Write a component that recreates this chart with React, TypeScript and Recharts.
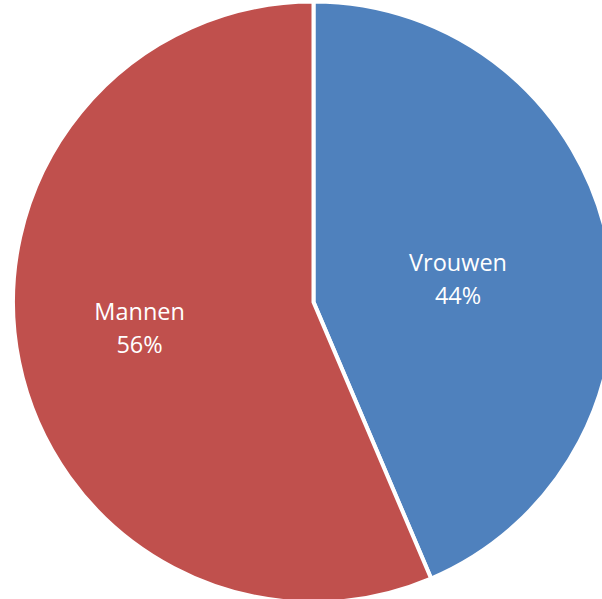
import { PieChart, Pie, Cell } from "recharts"

const categories = ["Vrouwen", "Mannen"];
const shares = [43.6, 56.4];
const colors = ["#4F81BD", "#C0504D"];

const data = categories.map((name, i) => ({ name, value: shares[i] }));

const RAD = Math.PI / 180;
// Excel nudges the two labels a bit differently, so tweak each one
const labelRadius = [0.487, 0.585];
const labelTurn = [-2.5, -3.1];

function renderLabel(props: any) {
  const { cx, cy, midAngle, outerRadius, percent, name, index } = props;
  const r = outerRadius * labelRadius[index];
  const a = (midAngle + labelTurn[index]) * RAD;
  const x = cx + r * Math.cos(-a);
  const y = cy + r * Math.sin(-a);
  return (
    <text
      x={x}
      y={y}
      fill="#ffffff"
      textAnchor="middle"
      fontFamily="'Open Sans', 'Liberation Sans', sans-serif"
      fontSize={23.5}
    >
      <tspan x={x} dy={-8}>{name}</tspan>
      <tspan x={x} dy={33}>{`${Math.round(percent * 100)}%`}</tspan>
    </text>
  );
}

export default function App() {
  return (
    <div style={{ position: "absolute", left: 0, top: 0, background: "#fff" }}>
      <PieChart width={602} height={599} margin={{ top: 0, right: 0, bottom: 0, left: 0 }}>
        <Pie
          data={data}
          dataKey="value"
          nameKey="name"
          cx={313.5}
          cy={302}
          outerRadius={300.5}
          startAngle={90}
          endAngle={-270}
          stroke="#ffffff"
          strokeWidth={4}
          label={renderLabel}
          labelLine={false}
          isAnimationActive={false}
        >
          {data.map((d, i) => (
            <Cell key={d.name} fill={colors[i]} />
          ))}
        </Pie>
      </PieChart>
    </div>
  );
}
